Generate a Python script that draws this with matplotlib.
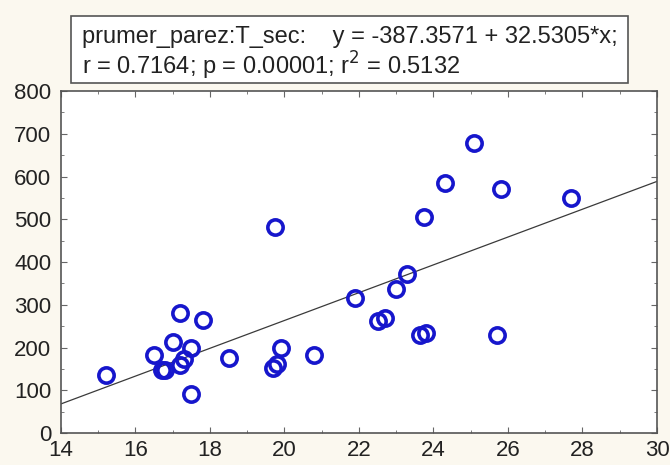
import numpy as np
import matplotlib
matplotlib.use("Agg")
import matplotlib.pyplot as plt
from matplotlib.patches import Rectangle
from matplotlib.ticker import MultipleLocator

plt.rcParams['font.family'] = ['Liberation Sans', 'DejaVu Sans']

# data
prumer_parez = [15.2, 16.5, 16.7, 16.8, 17.0, 17.2, 17.2, 17.3, 17.5, 17.5,
                17.8, 18.5, 19.7, 19.8, 19.75, 19.9, 20.8, 21.9, 22.5, 22.7,
                23.0, 23.3, 23.65, 23.8, 23.75, 24.3, 25.1, 25.7, 25.8, 27.7]
t_sec = [135, 182, 148, 148, 213, 280, 160, 172, 198, 92,
         265, 175, 152, 162, 483, 200, 183, 315, 263, 268,
         338, 373, 230, 235, 505, 585, 678, 230, 570, 550]
intercept, slope = -387.3571, 32.5305
line1 = "prumer_parez:T_sec:    y = -387.3571 + 32.5305*x;"
line2 = "r = 0.7164; p = 0.00001; r$^2$ = 0.5132"

fig = plt.figure(figsize=(6.7, 4.65), dpi=100, facecolor="#fbf8ef")
ax = fig.add_axes([0.091, 0.0688, 0.8896, 0.7355])
ax.set_facecolor("white")

xs = np.array([14, 30])
ax.plot(xs, intercept + slope * xs, color="#3a3a3a", lw=0.9)
ax.plot(prumer_parez, t_sec, "o", ms=11, mfc="none", mec="#1616cc", mew=2.6)

ax.set_xlim(14, 30); ax.set_ylim(0, 800)
ax.set_xticks(range(14, 31, 2)); ax.set_yticks(range(0, 801, 100))
ax.xaxis.set_minor_locator(MultipleLocator(1))
ax.yaxis.set_minor_locator(MultipleLocator(50))
ax.tick_params(which="both", direction="in", top=True, right=True,
               labelsize=16, color="#666666", labelcolor="#222222")
ax.tick_params(which="major", length=4)
ax.tick_params(which="minor", length=2.5)
ax.tick_params(axis="y", pad=7)
ax.tick_params(axis="x", pad=5)
for s in ax.spines.values():
    s.set_color("#555555"); s.set_linewidth(1.2)

fig.patches.append(Rectangle((0.106, 0.8215), 0.831, 0.144, transform=fig.transFigure,
                             fill=True, facecolor="white", edgecolor="#555555", lw=1.2))
fig.text(0.122, 0.9075, line1, fontsize=17, va="baseline", ha="left", color="#222222")
fig.text(0.122, 0.839, line2, fontsize=17, va="baseline", ha="left", color="#222222")

fig.savefig("out.png", dpi=100, facecolor=fig.get_facecolor())
